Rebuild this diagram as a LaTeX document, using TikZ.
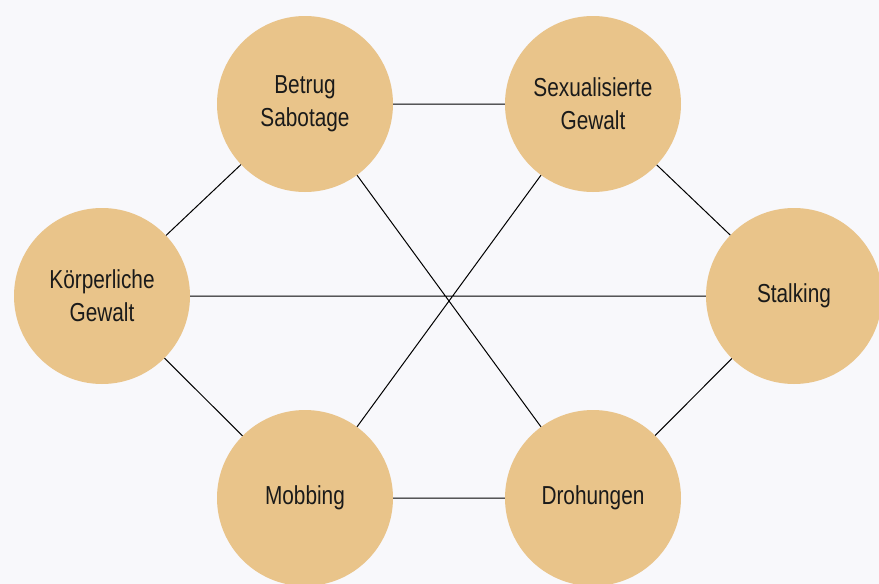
\documentclass[tikz,border=0pt]{standalone}
\usepackage{fontspec}
\setmainfont{Liberation Sans}[FakeStretch=0.8]
\definecolor{bg}{HTML}{F8F8FB}
\definecolor{tan}{HTML}{E9C48A}
\definecolor{ink}{HTML}{1A1A1A}
\begin{document}
\begin{tikzpicture}[x=1pt,y=-1pt,
  topic/.style={circle,fill=tan,draw=none,minimum size=176pt,inner sep=0pt,
    align=center,text=ink,font=\fontsize{26}{33}\selectfont},
  link/.style={draw=black,line width=1pt}]
\fill[bg] (0,0) rectangle (879,584);
\useasboundingbox (0,0) rectangle (879,584);
\node[topic] (betrug) at (305,104) {Betrug\\Sabotage};
\node[topic] (sex) at (593,104) {Sexualisierte\\Gewalt};
\node[topic] (koerper) at (102,296) {Körperliche\\Gewalt};
\node[topic] (stalk) at (794,296) {Stalking};
\node[topic] (mob) at (305,498) {Mobbing};
\node[topic] (droh) at (593,498) {Drohungen};
\path[link] (betrug) -- (sex) (sex) -- (stalk) (stalk) -- (droh)
  (droh) -- (mob) (mob) -- (koerper) (koerper) -- (betrug)
  (koerper) -- (stalk) (betrug) -- (droh) (sex) -- (mob);
\end{tikzpicture}
\end{document}
